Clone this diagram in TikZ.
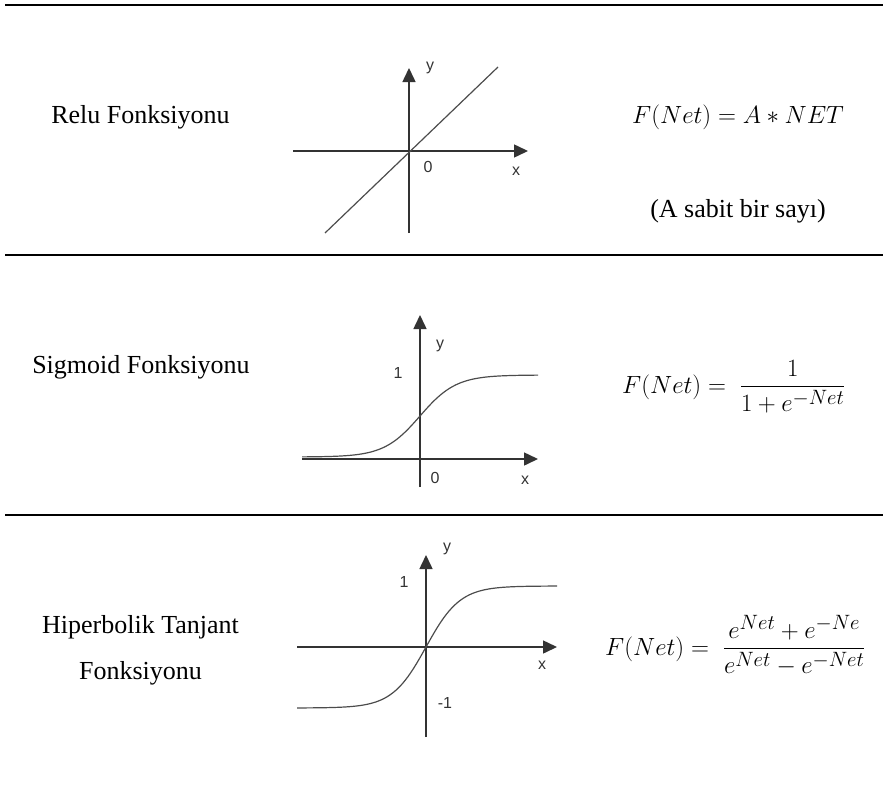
\documentclass[tikz,border=0pt]{standalone}
\usepackage{amsmath}
\usepackage{fontspec}
\setmainfont{Liberation Serif}
\newfontfamily\axisfont{Liberation Sans}
\DeclareMathSizes{25}{25}{20}{16}
\usetikzlibrary{arrows.meta}
\begin{document}
\begin{tikzpicture}[x=1pt,y=-1pt,
  rule/.style={line width=2pt,black},
  thinrule/.style={line width=1.2pt,black},
  axis/.style={line width=1.5pt,draw=black!80,-{Triangle[length=14pt,width=13pt]}},
  curve/.style={line width=1.2pt,draw=black!70},
  lbl/.style={font=\fontsize{26}{31}\selectfont, inner sep=0pt},
  eq/.style={font=\fontsize{25}{30}\selectfont, inner sep=0pt},
  tick/.style={font=\axisfont\fontsize{16}{18}\selectfont, text=black!80, inner sep=0pt}]
\useasboundingbox (0,0) rectangle (883,800);

% rules
\draw[rule] (5,5) -- (883,5);
\draw[rule] (5,254.5) -- (163,254.5);
\draw[thinrule] (163,255) -- (324,255);
\draw[rule] (324,254.5) -- (883,254.5);
\draw[rule] (5,515) -- (883,515);

% row labels
\node[lbl, anchor=base] (relu) at (140.5,123) {Relu Fonksiyonu};
\node[lbl, anchor=base] (sig) at (141,373) {Sigmoid Fonksiyonu};
\node[lbl, anchor=base] (hip1) at (140.5,633) {Hiperbolik Tanjant};
\node[lbl, anchor=base] (hip2) at (140.5,679) {Fonksiyonu};

% Relu graph
\draw[axis] (409,233) -- (409,68);
\draw[axis] (293,151) -- (528,151);
\draw[curve] (325,233) -- (498,67);
\node[tick] (ry) at (430,68) {y};
\node[tick] (r0) at (428,167) {0};
\node[tick] (rx) at (516,171) {x};

% Sigmoid graph
\draw[axis] (420,487) -- (420,315);
\draw[axis] (302,459) -- (538,459);
\draw[curve] plot[domain=302:538, samples=90] (\x, {457-82/(1+exp(-(\x-420)/18))});
\node[tick] (sy) at (440,346) {y};
\node[tick] (s1) at (398,373) {1};
\node[tick] (s0) at (435,478) {0};
\node[tick] (sx) at (525,480) {x};

% Tanh graph
\draw[axis] (426,737) -- (426,555);
\draw[axis] (297,647) -- (557,647);
\draw[curve] plot[domain=297:557, samples=90] (\x, {647-61*tanh((\x-426)/34)});
\node[tick] (ty) at (447,549) {y};
\node[tick] (t1) at (404,582) {1};
\node[tick] (tx) at (542,665) {x};
\node[tick] (tm1) at (445,703) {-1};

% equations
\node[eq, anchor=base west] (releq) at (632,123) {$F(Net)=A\ast NET$};
\node[lbl, anchor=base] (relnote) at (738,217) {(A sabit bir sayı)};
\node[eq, anchor=base west] (sigeq) at (622,393) {$F(Net)=\;\dfrac{1}{1+e^{-Net}}$};
\node[eq, anchor=base west] (tanheq) at (605,655) {$F(Net)=\;\dfrac{e^{Net}+e^{-Ne}}{e^{Net}-e^{-Net}}$};
\end{tikzpicture}
\end{document}
